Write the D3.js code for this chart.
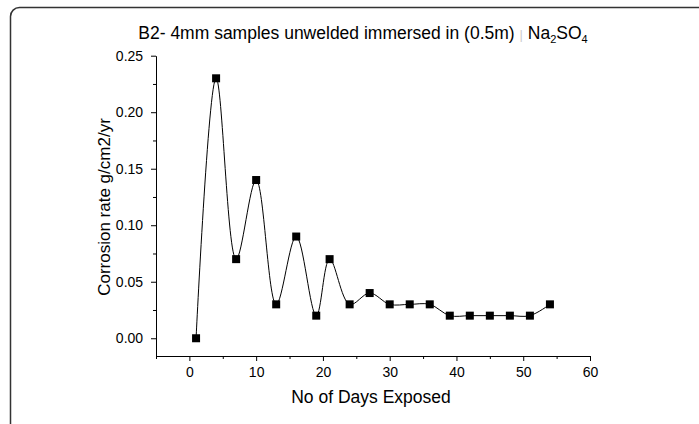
<!DOCTYPE html>
<html>
<head>
<meta charset="utf-8">
<script src="https://cdn.jsdelivr.net/npm/d3@7"></script>
<style>
  html, body { margin: 0; padding: 0; background: #fff; }
  svg { display: block; font-family: "Liberation Sans", Arial, sans-serif; }
</style>
</head>
<body>
<svg id="chart" width="699" height="424"></svg>
<script>
// Days of exposure and measured corrosion rate (g/cm2/yr)
const days = [1, 4, 7, 10, 13, 16, 19, 21, 24, 27, 30, 33, 36, 39, 42, 45, 48, 51, 54];
const corrosionRate = [0, 0.23, 0.07, 0.14, 0.03, 0.09, 0.02, 0.07, 0.03, 0.04, 0.03, 0.03, 0.03, 0.02, 0.02, 0.02, 0.02, 0.02, 0.03];

const xTicks = [0, 10, 20, 30, 40, 50, 60];
const yTicks = [0, 0.05, 0.10, 0.15, 0.20, 0.25];
const xMinorTicks = [-5, 5, 15, 25, 35, 45, 55];
const yMinorTicks = [0.025, 0.075, 0.125, 0.175, 0.225];

const svg = d3.select("#chart");

// outer frame with rounded corner
svg.append("rect")
  .attr("x", 10.5).attr("y", 7.5)
  .attr("width", 720).attr("height", 440)
  .attr("rx", 9).attr("ry", 9)
  .attr("fill", "none")
  .attr("stroke", "#333")
  .attr("stroke-width", 1.5);

const plot = { left: 156, right: 590, top: 55.7, bottom: 356 };

const x = d3.scaleLinear().domain([-5, 60]).range([plot.left, plot.right]);
const y = d3.scaleLinear().domain([-0.0157, 0.25]).range([plot.bottom, plot.top]);

// x axis
const gx = svg.append("g").attr("transform", `translate(0,${plot.bottom})`);
gx.call(d3.axisBottom(x).tickValues(xTicks).tickSize(5).tickSizeOuter(0).tickFormat(d3.format("d")));
gx.append("g").call(d3.axisBottom(x).tickValues(xMinorTicks).tickSize(3).tickSizeOuter(0).tickFormat(""))
  .select(".domain").remove();

// y axis
const gy = svg.append("g").attr("transform", `translate(${plot.left},0)`);
gy.call(d3.axisLeft(y).tickValues(yTicks).tickSize(5).tickSizeOuter(0).tickFormat(d3.format(".2f")));
gy.append("g").call(d3.axisLeft(y).tickValues(yMinorTicks).tickSize(3).tickSizeOuter(0).tickFormat(""))
  .select(".domain").remove();

svg.selectAll(".domain, .tick line").attr("stroke", "#000").attr("stroke-width", 1);
svg.selectAll(".tick text").attr("font-size", 14).attr("fill", "#000")
  .attr("font-family", "'Liberation Sans', Arial, sans-serif");
gx.selectAll(".tick text").attr("dy", "0.95em");
gy.selectAll(".tick text").attr("dx", "-0.35em");

// spline through the measurements
const pts = days.map((d, i) => [d, corrosionRate[i]]);
const line = d3.line()
  .x(d => x(d[0]))
  .y(d => y(d[1]))
  .curve(d3.curveCatmullRom.alpha(0.5));

svg.append("path")
  .datum(pts)
  .attr("d", line)
  .attr("fill", "none")
  .attr("stroke", "#000")
  .attr("stroke-width", 1);

// square markers
const ms = 8;
svg.append("g").selectAll("rect")
  .data(pts)
  .join("rect")
  .attr("x", d => x(d[0]) - ms / 2)
  .attr("y", d => y(d[1]) - ms / 2)
  .attr("width", ms)
  .attr("height", ms)
  .attr("fill", "#000");

// axis titles
svg.append("text")
  .attr("x", 371)
  .attr("y", 403)
  .attr("text-anchor", "middle")
  .attr("font-size", 17.5)
  .text("No of Days Exposed");

svg.append("text")
  .attr("transform", `translate(110,207) rotate(-90)`)
  .attr("text-anchor", "middle")
  .attr("font-size", 17)
  .text("Corrosion rate g/cm2/yr");

// chart title with chemical formula subscripts
const title = svg.append("text")
  .attr("x", 363)
  .attr("y", 39)
  .attr("text-anchor", "middle")
  .attr("font-size", 17.5);
title.append("tspan").text("B2- 4mm samples unwelded immersed in (0.5m) ");
title.append("tspan").attr("fill", "#ccc").attr("font-size", 13).text("|");
title.append("tspan").text(" Na");
title.append("tspan").attr("font-size", 11).attr("dy", 4).text("2");
title.append("tspan").attr("dy", -4).text("SO");
title.append("tspan").attr("font-size", 11).attr("dy", 4).text("4");
</script>
</body>
</html>
